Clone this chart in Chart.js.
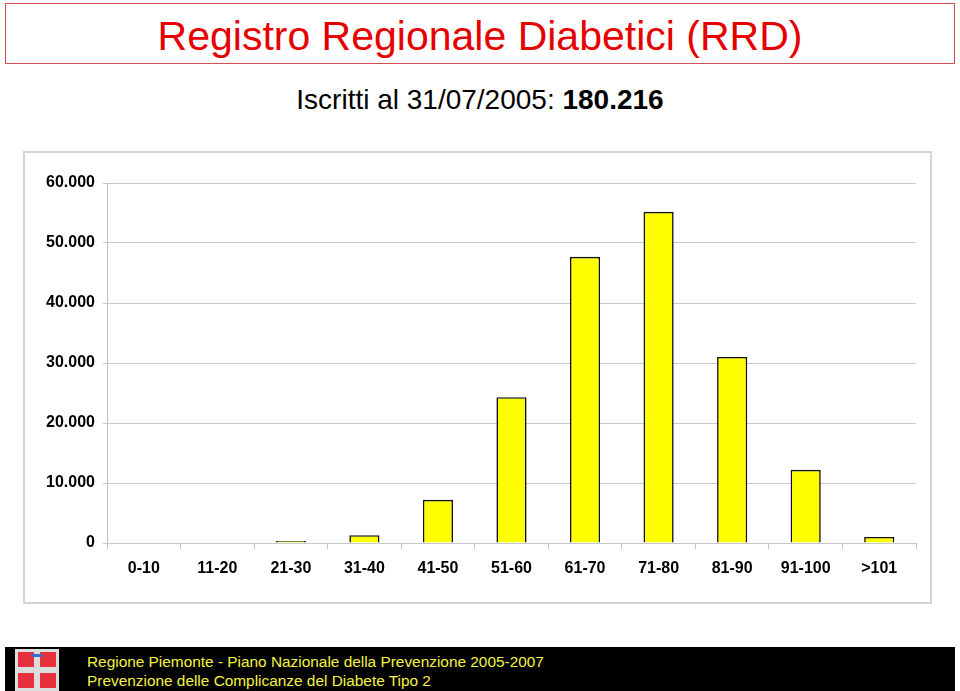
<!DOCTYPE html>
<html>
<head>
<meta charset="utf-8">
<script src="https://cdn.jsdelivr.net/npm/chart.js@4.4.0/dist/chart.umd.min.js"></script>
<style>
  body { margin: 0; width: 960px; height: 691px; background: #fff; position: relative; overflow: hidden;
         font-family: "Liberation Sans", Arial, sans-serif; }
  #titleBox { position: absolute; left: 5px; top: 3px; width: 948px; height: 59px;
              border: 1.5px solid #d05050; }
  #title { position: absolute; left: 0; right: 0; top: 9px; text-align: center;
           color: #e60000; font-size: 41px; line-height: 46px; }
  #subtitle { position: absolute; left: 0; right: 0; top: 85px; text-align: center;
              font-size: 28px; line-height: 30px; color: #000; }
  #chartBox { position: absolute; left: 23px; top: 151px; width: 905px; height: 449px;
              border: 2px solid #d4d4d4; }
  #chartWrap { position: absolute; left: 24px; top: 152px; width: 906px; height: 450px; }
  #footer { position: absolute; left: 5px; top: 647px; width: 950px; height: 44px; background: #000; }
  #logo { position: absolute; left: 10px; top: 2px; width: 44px; height: 42px; background: #dcdcdc; }
  .sq { position: absolute; width: 16px; height: 15px; background: #e8303c; }
  #crown { position: absolute; left: 16px; top: 5px; width: 12px; height: 3px; background: #3c6ed2; border-radius: 2px; }
  #ftext { position: absolute; left: 82px; top: 5px; color: #f4f440; font-size: 15.4px; line-height: 19px; }
</style>
</head>
<body>
<div id="titleBox"><div id="title">Registro Regionale Diabetici (RRD)</div></div>
<div id="subtitle">Iscritti al 31/07/2005: <b>180.216</b></div>
<div id="chartBox"></div>
<div id="chartWrap"><canvas id="chart"></canvas></div>
<div id="footer">
  <div id="logo">
    <div class="sq" style="left:3px;top:3px"></div>
    <div class="sq" style="left:25px;top:3px"></div>
    <div class="sq" style="left:3px;top:24px"></div>
    <div class="sq" style="left:25px;top:24px"></div>
    <div id="crown"></div>
  </div>
  <div id="ftext">Regione Piemonte - Piano Nazionale della Prevenzione 2005-2007<br>Prevenzione delle Complicanze del Diabete Tipo 2</div>
</div>
<script>
// Age classes and number of registered patients
const ageClasses = ['0-10', '11-20', '21-30', '31-40', '41-50', '51-60', '61-70', '71-80', '81-90', '91-100', '>101'];
const patients = [0, 0, 350, 1300, 7200, 24300, 47700, 55200, 31000, 12200, 1000];
const yTicks = [0, 10000, 20000, 30000, 40000, 50000, 60000];

function fmtThousands(v) {
    if (v === 0) return '0';
    return String(v).replace(/\B(?=(\d{3})+(?!\d))/g, '.');
}

const ctx = document.getElementById('chart').getContext('2d');
new Chart(ctx, {
    type: 'bar',
    data: {
        labels: ageClasses,
        datasets: [{
            data: patients,
            backgroundColor: '#ffff00',
            borderColor: '#111',
            borderWidth: 1.6,
            barPercentage: 0.41,
            categoryPercentage: 1
        }]
    },
    options: {
        responsive: true,
        maintainAspectRatio: false,
        animation: false,
        layout: { padding: { top: 31, right: 14, left: 0, bottom: 0 } },
        plugins: {
            legend: { display: false },
            tooltip: { enabled: false }
        },
        scales: {
            x: {
                grid: { drawOnChartArea: false, drawTicks: true, tickLength: 6, color: '#c0c0c0' },
                border: { display: false },
                ticks: {
                    color: '#000',
                    padding: 10,
                    font: { family: '"Liberation Sans", Arial, sans-serif', size: 16, weight: 'bold' }
                },
                afterFit: (scale) => { scale.height = 59; }
            },
            y: {
                min: 0,
                max: 60000,
                afterBuildTicks: (scale) => { scale.ticks = yTicks.map(v => ({ value: v })); },
                grid: { color: '#c8c8c8', tickLength: 4, drawTicks: true },
                border: { display: true, color: '#c0c0c0' },
                ticks: {
                    color: '#000',
                    padding: 8,
                    callback: (v) => fmtThousands(v),
                    font: { family: '"Liberation Sans", Arial, sans-serif', size: 16, weight: 'bold' }
                },
                afterFit: (scale) => { scale.width = 83; }
            }
        }
    }
});
</script>
</body>
</html>
